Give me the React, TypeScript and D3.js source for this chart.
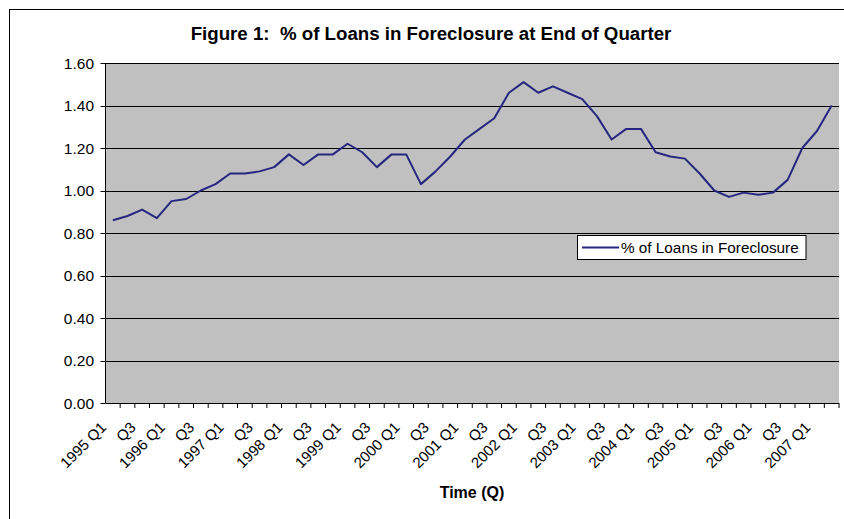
import React from "react";
import * as d3 from "d3";

const years = [1995, 1996, 1997, 1998, 1999, 2000, 2001, 2002, 2003, 2004, 2005, 2006, 2007];
const quarters = ["Q1", "Q2", "Q3", "Q4"];
const categories: string[] = [];
years.forEach((y) => quarters.forEach((q) => categories.push(`${y} ${q}`)));
const cats = categories.slice(0, 50);

const values = [
  0.86, 0.88, 0.91, 0.87, 0.95, 0.96, 1.0, 1.03, 1.08, 1.08,
  1.09, 1.11, 1.17, 1.12, 1.17, 1.17, 1.22, 1.18, 1.11, 1.17,
  1.17, 1.03, 1.09, 1.16, 1.24, 1.29, 1.34, 1.46, 1.51, 1.46,
  1.49, 1.46, 1.43, 1.35, 1.24, 1.29, 1.29, 1.18, 1.16, 1.15,
  1.08, 1.0, 0.97, 0.99, 0.98, 0.99, 1.05, 1.2, 1.28, 1.4,
];

const yTicks = [0, 0.2, 0.4, 0.6, 0.8, 1.0, 1.2, 1.4, 1.6];
const title = "Figure 1:  % of Loans in Foreclosure at End of Quarter";
const xTitle = "Time (Q)";
const seriesName = "% of Loans in Foreclosure";

export default function App() {
  const W = 844, H = 519;
  const left = 105.5, right = 839, top = 63, bottom = 403;
  const x = d3.scaleBand<string>().domain(cats).range([left, right]).padding(0);
  const y = d3.scaleLinear().domain([0, 1.6]).range([bottom, top]);
  const cx = (c: string) => (x(c) as number) + x.bandwidth() / 2;
  const line = d3
    .line<number>()
    .x((_, i) => cx(cats[i]))
    .y((d) => y(d));
  const font = "Arial, 'Liberation Sans', sans-serif";
  const labelFor = (c: string, i: number) => {
    if (i % 2 !== 0) return null;
    const [yr, q] = c.split(" ");
    return i % 4 === 0 ? `${yr} ${q}` : q;
  };
  return (
    <svg
      width={W}
      height={H}
      style={{ position: "absolute", left: 0, top: 0, background: "#fff" }}
      fontFamily={font}
    >
      <rect x={9.5} y={9.5} width={W + 20} height={H + 20} fill="#fff" stroke="#000" strokeWidth={1} />
      <text x={431} y={40} textAnchor="middle" fontSize={18.7} fontWeight="bold" fill="#000" style={{ whiteSpace: "pre" }}>
        {title}
      </text>
      <rect x={left} y={top} width={right - left} height={bottom - top} fill="#c0c0c0" />
      {yTicks.map((t) => (
        <g key={t}>
          {t > 0 && (
            <line x1={left} x2={right} y1={Math.round(y(t)) + 0.5} y2={Math.round(y(t)) + 0.5} stroke="#000" strokeWidth={1} />
          )}
          <line x1={left - 5} x2={left} y1={Math.round(y(t)) + 0.5} y2={Math.round(y(t)) + 0.5} stroke="#000" />
          <text x={94} y={y(t)} dy="0.36em" textAnchor="end" fontSize={15.5} fill="#000">
            {t.toFixed(2)}
          </text>
        </g>
      ))}
      <line x1={left} x2={left} y1={top} y2={bottom} stroke="#000" />
      <line x1={left} x2={right} y1={bottom + 0.5} y2={bottom + 0.5} stroke="#000" />
      {cats.map((c) => (
        <line
          key={"t" + c}
          x1={(x(c) as number) + x.bandwidth()}
          x2={(x(c) as number) + x.bandwidth()}
          y1={bottom}
          y2={bottom + 5}
          stroke="#000"
        />
      ))}
      {cats.map((c, i) => {
        const lab = labelFor(c, i);
        if (!lab) return null;
        const ax = cx(c) - 13;
        const ay = bottom + 18;
        return (
          <text
            key={"l" + c}
            x={ax}
            y={ay}
            textAnchor="end"
            dy="0.7em"
            fontSize={15}
            fill="#000"
            transform={`rotate(-45 ${ax} ${ay})`}
          >
            {lab}
          </text>
        );
      })}
      <path d={line(values) || ""} fill="none" stroke="#262680" strokeWidth={2} strokeLinejoin="round" />
      <text x={472} y={498} textAnchor="middle" fontSize={16} fontWeight="bold" fill="#000">
        {xTitle}
      </text>
      <rect x={577.5} y={235.5} width={228.5} height={24} fill="#fff" stroke="#000" />
      <line x1={582} x2={619} y1={247.5} y2={247.5} stroke="#262680" strokeWidth={2} />
      <text x={621} y={247.5} dy="0.36em" fontSize={15.3} fill="#000">
        {seriesName}
      </text>
    </svg>
  );
}
